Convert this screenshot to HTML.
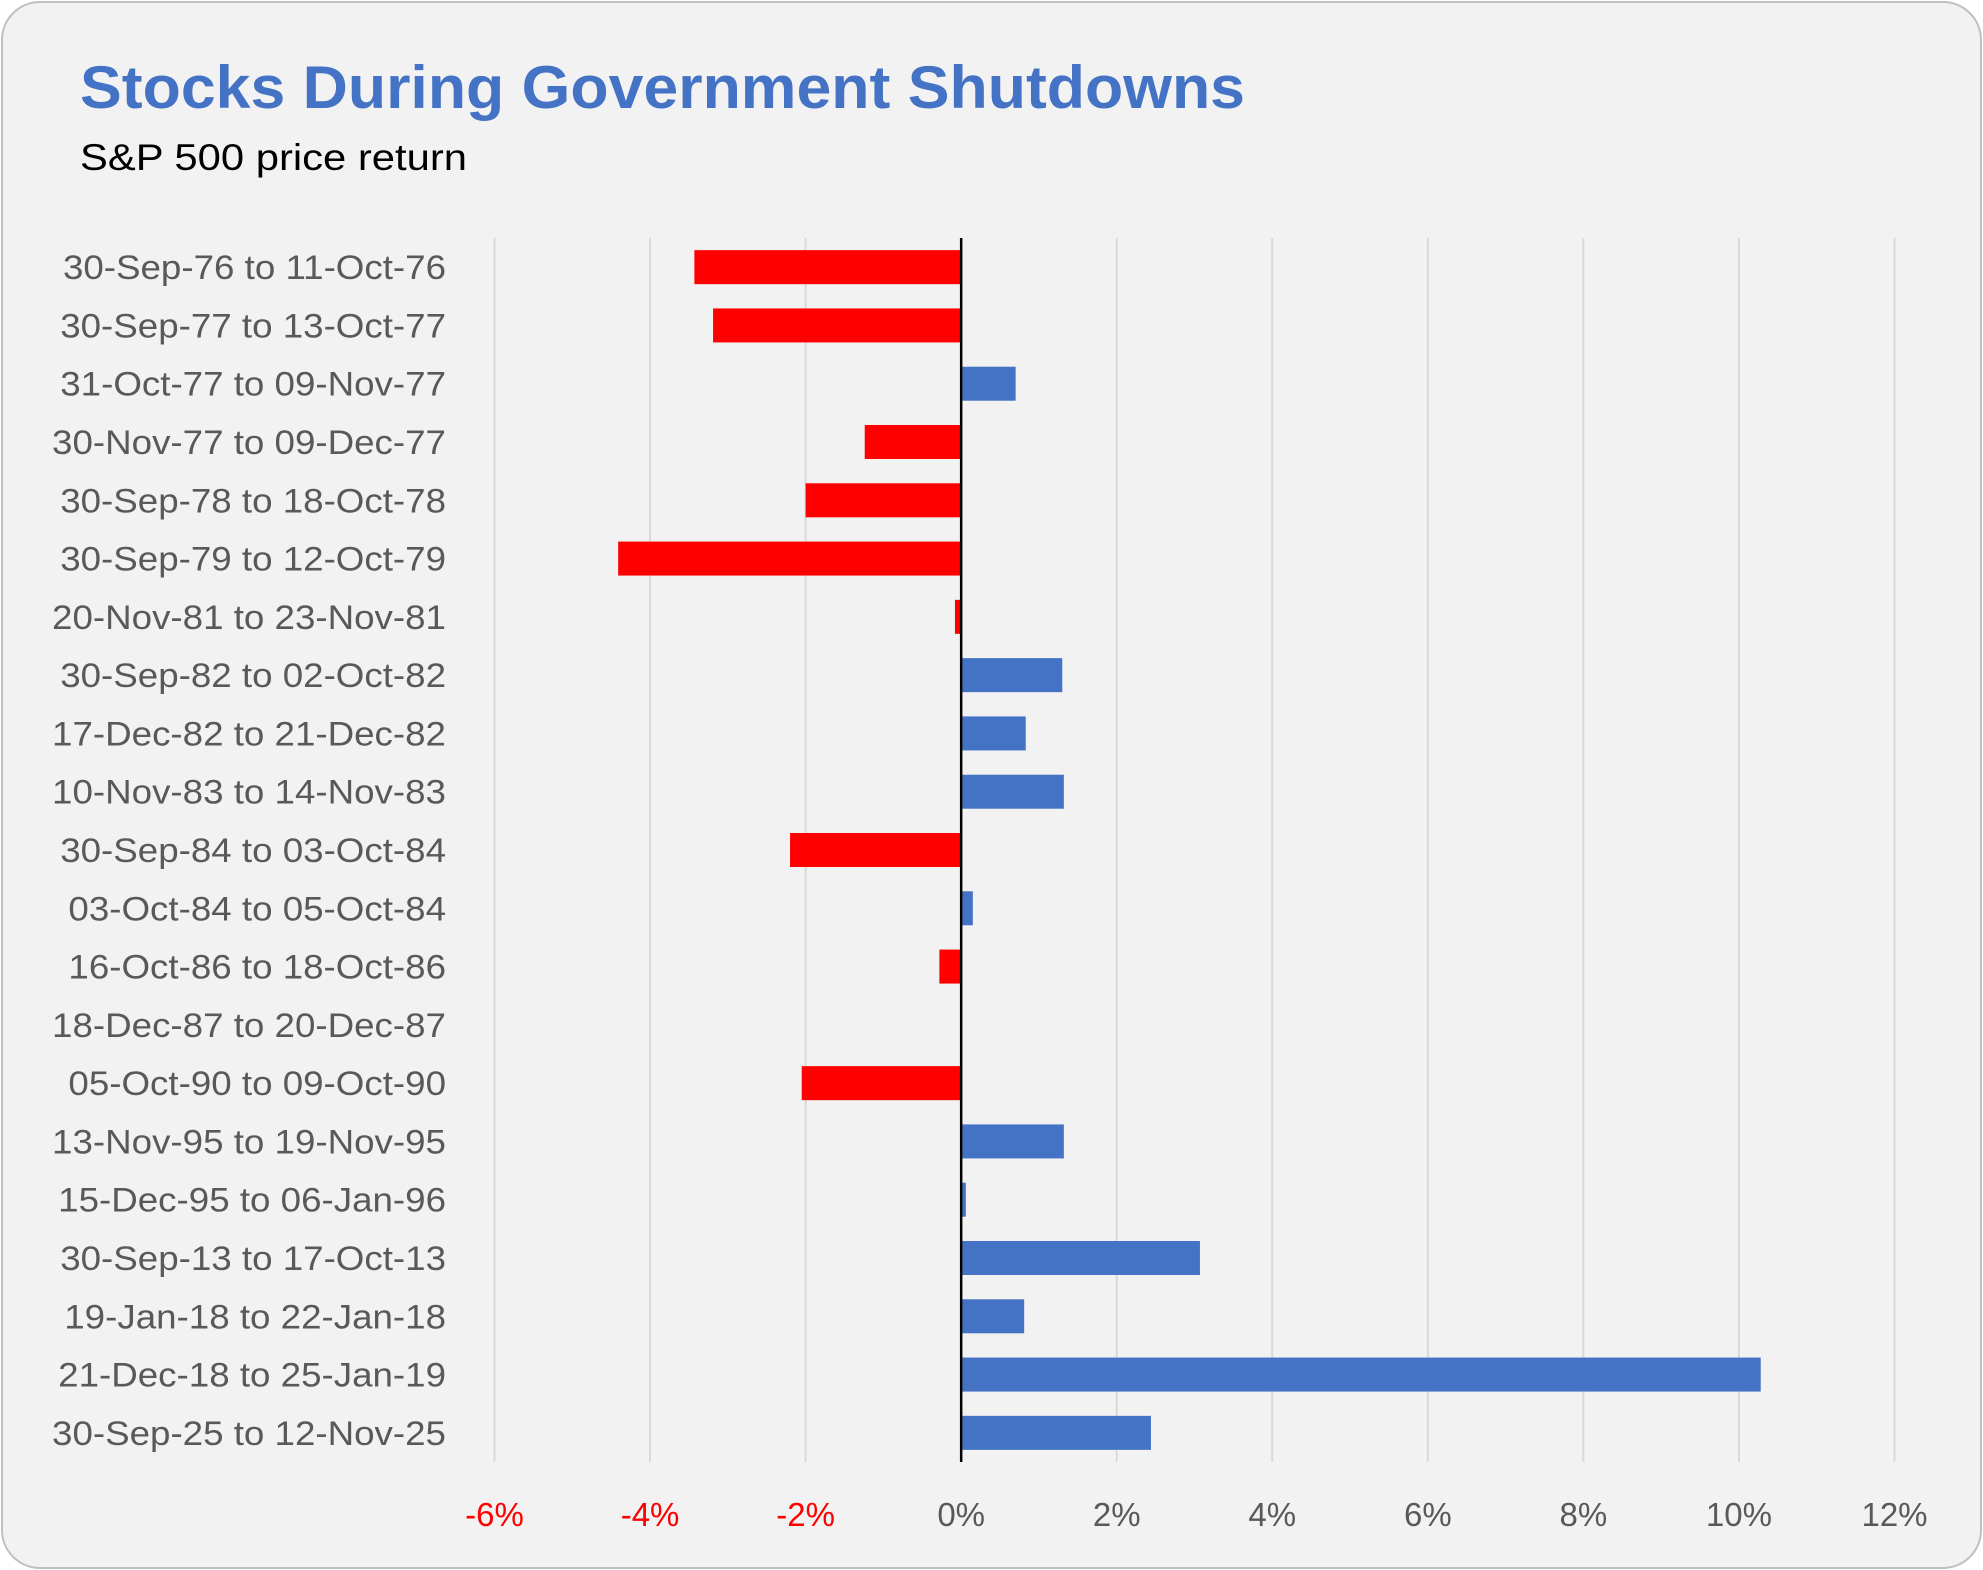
<!DOCTYPE html>
<html><head><meta charset="utf-8"><style>
html,body{margin:0;padding:0;background:#fff;}
svg{display:block;}
</style></head><body>
<svg id="chart" width="1983" height="1570" xmlns="http://www.w3.org/2000/svg">
<rect x="2" y="2" width="1979" height="1566" rx="38" fill="#f2f2f2" stroke="#bfbfbf" stroke-width="2"/>
<text x="80" y="108" font-family="Liberation Sans, sans-serif" font-weight="bold" font-size="60" fill="#4472c4" textLength="1165" lengthAdjust="spacingAndGlyphs">Stocks During Government Shutdowns</text>
<text x="80" y="170" font-family="Liberation Sans, sans-serif" font-size="37" fill="#000" textLength="387" lengthAdjust="spacingAndGlyphs">S&amp;P 500 price return</text>
<g id="grid"></g><g id="bars"></g><g id="cats"></g><g id="ticks"></g>
</svg>
<script>
const categories=["30-Sep-76 to 11-Oct-76","30-Sep-77 to 13-Oct-77","31-Oct-77 to 09-Nov-77","30-Nov-77 to 09-Dec-77","30-Sep-78 to 18-Oct-78","30-Sep-79 to 12-Oct-79","20-Nov-81 to 23-Nov-81","30-Sep-82 to 02-Oct-82","17-Dec-82 to 21-Dec-82","10-Nov-83 to 14-Nov-83","30-Sep-84 to 03-Oct-84","03-Oct-84 to 05-Oct-84","16-Oct-86 to 18-Oct-86","18-Dec-87 to 20-Dec-87","05-Oct-90 to 09-Oct-90","13-Nov-95 to 19-Nov-95","15-Dec-95 to 06-Jan-96","30-Sep-13 to 17-Oct-13","19-Jan-18 to 22-Jan-18","21-Dec-18 to 25-Jan-19","30-Sep-25 to 12-Nov-25"];
const returns=[-3.43,-3.19,0.70,-1.24,-2.0,-4.41,-0.08,1.30,0.83,1.32,-2.20,0.15,-0.28,0,-2.05,1.32,0.06,3.07,0.81,10.28,2.44];
const tickValues=[-6,-4,-2,0,2,4,6,8,10,12];
const tickLabels=["-6%","-4%","-2%","0%","2%","4%","6%","8%","10%","12%"];
const NS="http://www.w3.org/2000/svg";
const x0=494.5,x1=1894.5,vmin=-6,vmax=12,plotTop=238,plotBottom=1462;
const xs=v=>x0+(v-vmin)/(vmax-vmin)*(x1-x0);
const step=(plotBottom-plotTop)/categories.length;
const yc=i=>plotTop+step*(i+0.5);
function mk(t,a,p){const e=document.createElementNS(NS,t);for(const k in a)e.setAttribute(k,a[k]);document.getElementById(p).appendChild(e);return e;}
tickValues.forEach((v,i)=>{
 if(v!==0){const g=mk('line',{x1:xs(v),x2:xs(v),y1:plotTop,y2:plotBottom,stroke:'#d9d9d9','stroke-width':2},'grid');
 
 }
 const t=mk('text',{x:xs(v),y:1526,'text-anchor':'middle','font-family':'Liberation Sans, sans-serif','font-size':33,fill:v<0?'#ff0000':'#595959'},'ticks');
 t.textContent=tickLabels[i];
 
 
});
categories.forEach((c,i)=>{
 const v=returns[i];const a=xs(0),b=xs(v);
 const r=mk('rect',{x:Math.min(a,b),y:yc(i)-17,width:Math.abs(b-a),height:34,fill:v<0?'#ff0000':'#4472c4'},'bars');
 
 
 const t=mk('text',{x:446,y:yc(i)+12,'text-anchor':'end','font-family':'Liberation Sans, sans-serif','font-size':34,fill:'#595959'},'cats');
 t.textContent=c;
 
 
 const w=t.getComputedTextLength();
 t.setAttribute('textLength',w*1.08);
 t.setAttribute('lengthAdjust','spacingAndGlyphs');
});
const z=mk('line',{x1:xs(0),x2:xs(0),y1:plotTop,y2:plotBottom,stroke:'#000','stroke-width':2.5},'bars');


</script>
</body></html>
